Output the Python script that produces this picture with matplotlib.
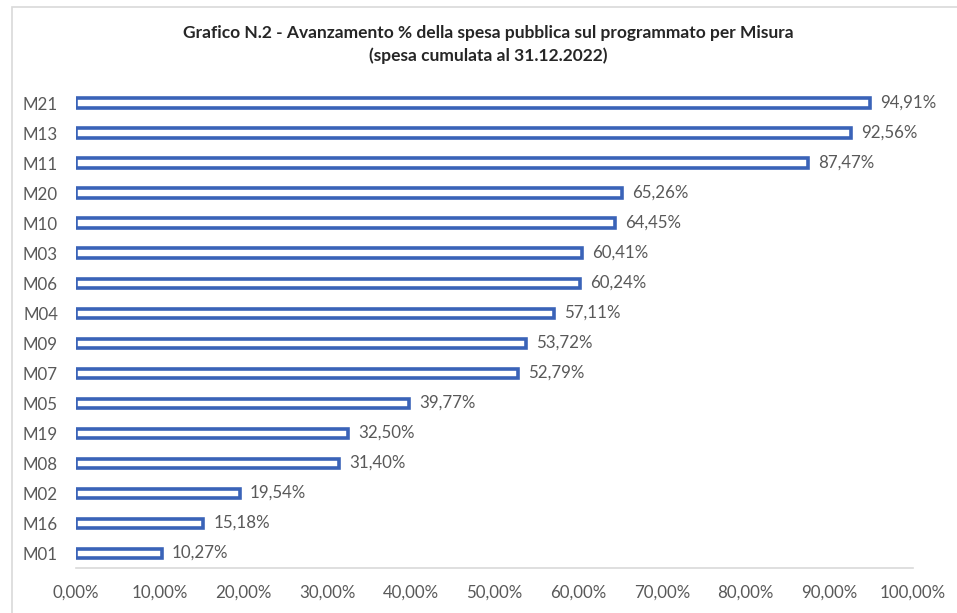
import matplotlib
matplotlib.use("Agg")
import matplotlib.pyplot as plt
from matplotlib.patches import Rectangle

categories = ["M21", "M13", "M11", "M20", "M10", "M03", "M06", "M04",
              "M09", "M07", "M05", "M19", "M08", "M02", "M16", "M01"]
values = [94.91, 92.56, 87.47, 65.26, 64.45, 60.41, 60.24, 57.11,
          53.72, 52.79, 39.77, 32.50, 31.40, 19.54, 15.18, 10.27]
xticks = [0, 10, 20, 30, 40, 50, 60, 70, 80, 90, 100]

plt.rcParams['font.family'] = ['Lato', 'DejaVu Sans']

W, H = 957, 613
fig = plt.figure(figsize=(W / 100, H / 100), dpi=100)
fig.patch.set_facecolor("white")

# outer chart frame
fig.add_artist(Rectangle((12 / W, -0.1), 1.2, (H - 7) / H + 0.1,
                         transform=fig.transFigure, fill=False,
                         edgecolor="#d9d9d9", linewidth=1.2))

left, right, top, bottom = 76, 913, 88, 568
ax = fig.add_axes([left / W, 1 - bottom / H, (right - left) / W, (bottom - top) / H])

n = len(categories)
ypos = list(range(n))[::-1]
ax.barh(ypos, values, height=0.3, color="white", edgecolor="#3a63b8", linewidth=2.6)

for y, v in zip(ypos, values):
    ax.text(v + 1.2, y, f"{v:.2f}%".replace(".", ","), va="center", ha="left",
            fontsize=12.2, color="#595959")

ax.set_xlim(0, 100)
ax.set_ylim(-0.5, n - 0.5)
ax.set_yticks(ypos)
ax.set_yticklabels(categories)
ax.set_xticks(xticks)
ax.set_xticklabels([f"{t:.2f}%".replace(".", ",") for t in xticks])
ax.tick_params(axis="both", length=0, labelsize=12.2, labelcolor="#595959")
ax.tick_params(axis="x", pad=12)
ax.tick_params(axis="y", pad=13)
for s in ["top", "right", "left"]:
    ax.spines[s].set_visible(False)
ax.spines["bottom"].set_color("#d9d9d9")
ax.spines["bottom"].set_linewidth(1.2)

fig.text(488 / W, 1 - 33 / H, "Grafico N.2 - Avanzamento % della spesa pubblica sul programmato per Misura",
         ha="center", va="center", fontsize=12.5, fontweight="bold", color="#262626")
fig.text(488 / W, 1 - 56 / H, "(spesa cumulata al 31.12.2022)",
         ha="center", va="center", fontsize=12.5, fontweight="bold", color="#262626")

fig.savefig("out.png", dpi=100)
